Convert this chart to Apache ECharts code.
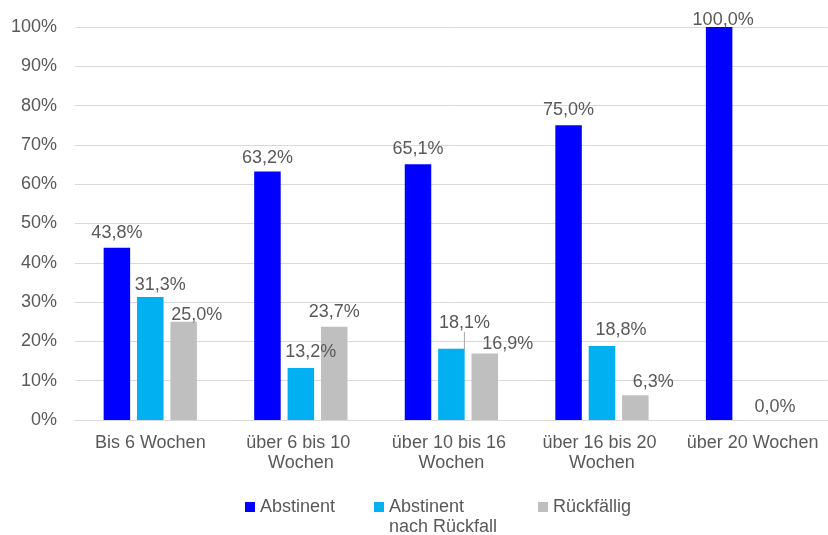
<!DOCTYPE html>
<html>
<head>
<meta charset="utf-8">
<script src="https://cdn.jsdelivr.net/npm/echarts@6/dist/echarts.min.js"></script>
<style>
  html, body { margin: 0; padding: 0; background: #fff; }
  #chart { width: 828px; height: 535px; }
</style>
</head>
<body>
<div id="chart"></div>
<script>
// Dauer der Behandlung
const categories = ['Bis 6 Wochen', 'über 6 bis 10 Wochen', 'über 10 bis 16 Wochen', 'über 16 bis 20 Wochen', 'über 20 Wochen'];

// Anteile in Prozent
const abstinent = [43.8, 63.2, 65.1, 75.0, 100.0];
const abstinentNachRueckfall = [31.3, 13.2, 18.1, 18.8, null];
const rueckfaellig = [25.0, 23.7, 16.9, 6.3, 0.0];

const seriesNames = ['Abstinent', 'Abstinent nach Rückfall', 'Rückfällig'];
const yTicks = [0, 10, 20, 30, 40, 50, 60, 70, 80, 90, 100];

const TEXT = '#595959';
const FONT = 'Liberation Sans, Arial, sans-serif';

// manual label nudges per series / category [dx, dy]
const labelNudge = [
  [[0, 0], [0, 1], [0, 0], [0, 0], [4, 8]],
  [[10, 3], [10, -1], [13, -11], [19, -1], [0, 0]],
  [[13, 8], [0, 0], [23, 5], [18, 2], [-11, 2]]
];

const fmt = p => p.value == null ? '' : p.value.toFixed(1).replace('.', ',') + '%';

function makeSeries(idx, values, color) {
  return {
    name: seriesNames[idx],
    type: 'bar',
    barWidth: 26.5,
    barGap: '26%',
    itemStyle: { color: color },
    label: {
      show: true,
      position: 'top',
      distance: 6,
      formatter: fmt,
      color: TEXT,
      fontFamily: FONT,
      fontSize: 18
    },
    labelLine: { show: false, lineStyle: { color: '#a6a6a6', width: 1 } },
    labelLayout: p => ({ dx: labelNudge[idx][p.dataIndex][0], dy: labelNudge[idx][p.dataIndex][1] }),
    data: values.map((v, i) => {
      const item = { value: v == null ? '-' : v };
      if (idx === 1 && i === 2) item.labelLine = { show: true, lineStyle: { color: '#a6a6a6', width: 1 } };
      return item;
    })
  };
}

const legendBase = {
  orient: 'horizontal',
  padding: 0,
  itemWidth: 10,
  itemHeight: 10,
  icon: 'rect',
  selectedMode: false,
  textStyle: { color: TEXT, fontFamily: FONT, fontSize: 18, lineHeight: 20 }
};

// square marker sitting at the top of a taller box, so a two-line caption
// starts level with the marker
const topSquare = 'path://M0,0L10,0L10,10L0,10Z M0,30L0.01,30';

const chart = echarts.init(document.getElementById('chart'), null, { renderer: 'canvas' });
chart.setOption({
  animation: false,
  backgroundColor: '#fff',
  grid: { left: 75, right: 0, top: 27, bottom: 115, containLabel: false },
  xAxis: {
    type: 'category',
    data: categories,
    axisLine: { lineStyle: { color: '#d9d9d9', width: 1 } },
    axisTick: { show: false },
    axisLabel: {
      color: TEXT,
      fontFamily: FONT,
      fontSize: 18,
      lineHeight: 20,
      margin: 13,
      interval: 0,
      width: 145,
      overflow: 'break'
    }
  },
  yAxis: {
    type: 'value',
    min: yTicks[0],
    max: yTicks[yTicks.length - 1],
    interval: yTicks[1] - yTicks[0],
    axisLine: { show: false },
    axisTick: { show: false },
    splitLine: { lineStyle: { color: '#d9d9d9', width: 1 } },
    axisLabel: {
      color: TEXT,
      fontFamily: FONT,
      fontSize: 18,
      margin: 18,
      formatter: v => v + '%'
    }
  },
  legend: [
    Object.assign({}, legendBase, { data: [seriesNames[0]], left: 245, top: 497 }),
    Object.assign({}, legendBase, {
      data: [{ name: seriesNames[1], icon: topSquare }],
      left: 374, top: 497,
      itemHeight: 30,
      formatter: () => 'Abstinent\nnach Rückfall'
    }),
    Object.assign({}, legendBase, { data: [seriesNames[2]], left: 538, top: 497 })
  ],
  series: [
    makeSeries(0, abstinent, '#0000ff'),
    makeSeries(1, abstinentNachRueckfall, '#00b0f0'),
    makeSeries(2, rueckfaellig, '#bfbfbf')
  ]
});
</script>
</body>
</html>
